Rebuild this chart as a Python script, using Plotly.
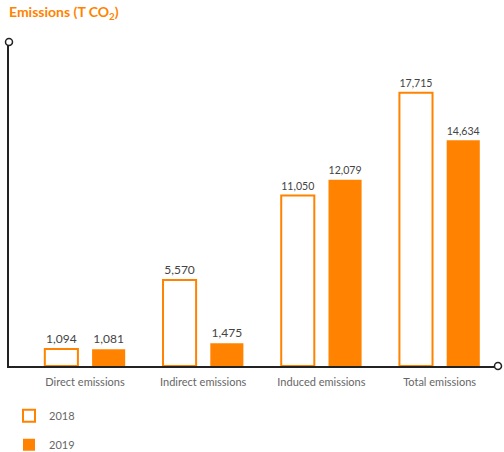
import plotly.graph_objects as go

categories = ["Direct emissions", "Indirect emissions", "Induced emissions", "Total emissions"]
values_2018 = [1094, 5570, 11050, 17715]
values_2019 = [1081, 1475, 12079, 14634]
series_names = ["2018", "2019"]

ORANGE = "#ff8300"
FONT = "Lato, 'Open Sans', sans-serif"

fig = go.Figure()
fig.add_trace(go.Bar(
    x=categories, y=values_2018, name=series_names[0],
    marker=dict(color="white", line=dict(color=ORANGE, width=2)),
    texttemplate="%{y:,}", textposition="outside",
    textfont=dict(color="#444", size=12, family=FONT),
    cliponaxis=False, legendgroup="a",
))
fig.add_trace(go.Bar(
    x=categories, y=values_2019, name=series_names[1],
    marker=dict(color=ORANGE, line=dict(color=ORANGE, width=0)),
    texttemplate="%{y:,}", textposition="outside",
    textfont=dict(color="#444", size=12, family=FONT),
    cliponaxis=False, legendgroup="b",
))

fig.update_layout(
    width=504, height=452,
    margin=dict(l=9, r=6, t=42, b=86, autoexpand=False),
    paper_bgcolor="white", plot_bgcolor="white",
    barmode="group", bargap=0.2, bargroupgap=0.3,
    font=dict(family=FONT, color="#666", size=11),
    title=dict(text="Emissions (T CO<sub>2</sub>)", x=0, xref="paper", xanchor="left",
               y=0.985, yref="container", yanchor="top",
               font=dict(color=ORANGE, size=14, family=FONT, weight="bold"), pad=dict(l=0)),
    xaxis=dict(range=[-0.643, 3.494], showline=True, linecolor="#222", linewidth=2,
               ticks="outside", ticklen=5, tickcolor="rgba(0,0,0,0)",
               showgrid=False, tickfont=dict(color="#666", size=11)),
    yaxis=dict(range=[0, 21000], showline=True, linecolor="#222", linewidth=2,
               showticklabels=False, ticks="", showgrid=False, zeroline=False),
    legend=dict(x=0.0, y=-0.109, xanchor="left", yanchor="top", orientation="v",
                itemwidth=30, tracegroupgap=10, font=dict(color="#666", size=11)),
    showlegend=True,
)

# decorative end circles on axes
fig.add_shape(type="circle", xref="x domain", yref="y domain", xsizemode="pixel", ysizemode="pixel",
              xanchor=0, yanchor=1, x0=-3.5, x1=3.5, y0=-3.5, y1=3.5,
              line=dict(color="#222", width=1.5), fillcolor="white")
fig.add_shape(type="circle", xref="x domain", yref="y domain", xsizemode="pixel", ysizemode="pixel",
              xanchor=1, yanchor=0, x0=-3.5, x1=3.5, y0=-3.5, y1=3.5,
              line=dict(color="#222", width=1.5), fillcolor="white")

fig.write_html("out.html", config={"displayModeBar": False},
               post_script="document.body.style.margin='0';document.body.style.overflow='hidden';")
